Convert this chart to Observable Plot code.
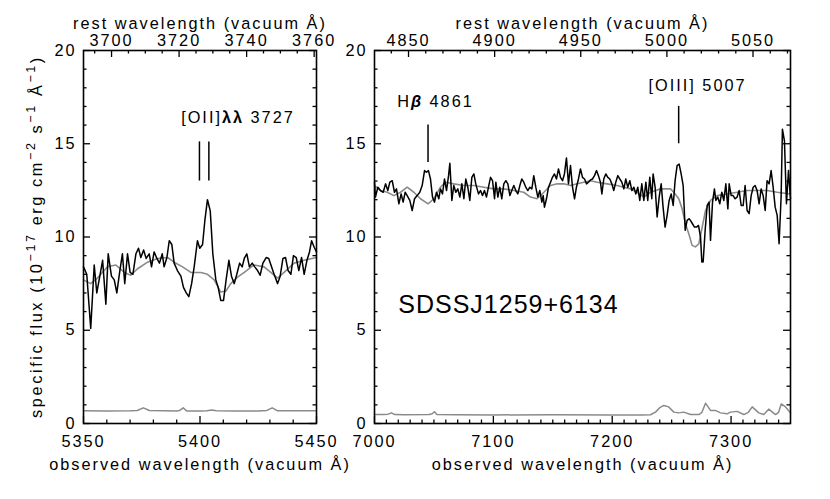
<!DOCTYPE html>
<html><head><meta charset="utf-8">
<script src="https://cdn.jsdelivr.net/npm/d3@7"></script>
<script src="https://cdn.jsdelivr.net/npm/@observablehq/plot@0.6"></script>
<style>
body{margin:0;background:#fff;}
#chart{position:relative;width:830px;height:499px;overflow:hidden;background:#fff;}
#chart svg{position:absolute;top:0;font-family:"Liberation Sans",Arial,sans-serif;font-size:16.3px;letter-spacing:2px;overflow:visible;background:transparent;}
</style></head><body><div id="chart"></div>
<script>
// redshift factor (1+z)
const onePlusZ = 1.4492;

// ---- left panel: observed wavelength (Å) and flux (1e-17 erg/cm2/s/Å)
const leftObs = [5350.0,5351.4,5353.1,5354.6,5355.7,5357.0,5358.2,5359.6,5360.6,5362.0,5363.2,5364.3,5365.5,5366.7,5367.7,5368.9,5370.0,5371.2,5372.5,5373.6,5374.6,5375.8,5376.9,5378.2,5379.2,5380.3,5381.5,5382.6,5383.8,5384.6,5385.8,5386.8,5387.9,5388.9,5390.3,5391.8,5392.9,5394.1,5395.2,5396.4,5397.5,5398.9,5399.9,5401.1,5402.1,5403.2,5404.4,5405.5,5406.8,5407.8,5408.9,5410.1,5411.2,5412.4,5413.5,5414.7,5415.8,5417.0,5418.1,5419.0,5420.1,5421.2,5422.4,5423.5,5424.7,5425.8,5427.0,5428.4,5429.5,5430.7,5431.8,5433.3,5434.4,5435.6,5436.7,5437.8,5439.0,5440.1,5441.3,5442.4,5443.6,5444.7,5445.9,5447.0,5447.9,5449.0,5450.0];
const leftFlux = [8.4,8.0,5.1,8.5,7.0,7.9,8.75,6.4,9.1,7.9,7.7,7.0,8.1,9.1,7.5,9.1,8.1,8.0,9.1,9.4,8.9,9.3,8.85,9.1,8.4,9.2,8.85,8.6,9.1,8.4,8.9,9.8,9.6,8.6,8.2,7.9,7.3,7.0,6.8,7.5,8.4,9.8,9.4,9.6,10.9,12.0,11.4,9.1,7.7,7.3,6.6,6.6,7.7,8.75,7.9,7.5,8.0,8.6,8.4,8.85,9.1,8.4,8.6,8.4,8.2,7.95,8.6,8.9,8.85,8.4,8.0,7.5,7.9,8.85,8.9,8.2,8.0,9.0,8.9,8.2,8.9,8.0,8.75,9.2,9.8,9.45,9.2];
const leftModelObs = [5350.0,5353.1,5356.0,5360.3,5363.9,5367.5,5370.3,5373.2,5377.5,5381.8,5386.1,5388.9,5392.5,5396.1,5400.4,5403.2,5406.1,5408.9,5411.1,5413.2,5416.1,5419.0,5423.2,5427.5,5430.4,5433.3,5436.1,5440.4,5444.7,5450.0];
const leftModel = [7.7,7.5,7.8,8.4,8.5,8.1,7.95,8.3,8.65,8.85,8.9,8.65,8.4,8.1,8.1,8.0,7.7,7.05,7.1,7.5,7.85,8.1,8.5,8.4,8.1,7.8,8.1,8.6,8.75,8.9];
const leftErrObs = [5350,5360,5370,5373,5375.7,5378.3,5385,5390,5391.3,5392.8,5394.3,5400,5403,5405,5407,5415,5425,5428.7,5431,5433.3,5440,5450];
const leftErr = [0.68,0.67,0.68,0.7,0.84,0.7,0.68,0.67,0.7,0.84,0.67,0.67,0.69,0.72,0.68,0.67,0.67,0.7,0.84,0.68,0.68,0.68];

// ---- right panel
const rightObs = [7000.0,7000.8,7002.8,7005.0,7007.3,7009.3,7011.2,7012.9,7014.9,7016.8,7018.5,7020.5,7022.4,7024.1,7025.8,7027.5,7029.7,7031.7,7033.7,7035.9,7038.1,7040.1,7042.1,7043.7,7045.4,7047.1,7048.8,7050.5,7052.2,7054.1,7055.5,7057.2,7058.9,7060.6,7062.3,7063.4,7065.1,7066.7,7068.4,7070.1,7071.8,7073.5,7075.2,7076.8,7078.5,7080.2,7081.9,7083.6,7085.2,7087.5,7089.2,7090.9,7092.5,7094.2,7095.9,7097.6,7099.3,7101.0,7102.1,7103.8,7105.4,7107.1,7108.8,7110.5,7112.2,7113.9,7115.5,7117.2,7118.9,7120.6,7122.3,7123.9,7125.6,7127.3,7129.0,7130.7,7132.4,7134.0,7135.7,7137.4,7139.1,7140.8,7141.9,7143.0,7144.7,7146.4,7148.1,7149.7,7151.4,7153.1,7154.8,7156.5,7158.2,7159.8,7161.5,7163.2,7164.9,7166.6,7168.3,7169.9,7171.6,7173.3,7175.0,7176.7,7178.4,7180.0,7181.7,7183.4,7185.1,7186.8,7188.4,7190.1,7191.3,7192.9,7194.6,7196.3,7198.0,7199.7,7201.3,7203.0,7204.7,7206.4,7208.1,7209.8,7211.4,7213.1,7214.8,7216.5,7218.2,7219.9,7221.5,7223.2,7224.9,7226.6,7228.3,7229.9,7231.6,7233.3,7234.4,7236.1,7237.8,7239.5,7241.2,7242.8,7244.5,7246.2,7247.9,7249.6,7251.3,7252.9,7254.6,7256.3,7258.0,7259.7,7261.4,7263.0,7264.7,7265.8,7267.5,7269.2,7270.9,7272.6,7274.3,7275.4,7276.5,7278.2,7279.9,7281.5,7282.7,7284.4,7286.0,7287.2,7288.8,7290.5,7292.2,7293.9,7295.6,7297.3,7298.4,7300.1,7301.7,7303.4,7305.1,7306.8,7308.5,7310.2,7311.8,7313.5,7315.2,7316.9,7318.6,7320.2,7321.9,7323.6,7325.3,7327.0,7328.7,7330.3,7332.0,7333.7,7335.4,7337.1,7338.8,7340.4,7342.1,7343.2,7344.9,7346.6,7348.3,7350.0];
const rightFlux = [12.94,12.14,12.67,12.49,12.40,12.85,12.49,12.94,13.02,12.40,12.58,11.78,12.31,11.87,12.40,12.22,11.96,11.42,12.05,12.22,12.40,12.76,13.56,13.47,13.56,13.11,12.14,11.87,12.40,12.05,12.58,12.31,13.11,12.49,13.29,13.95,11.96,12.76,12.40,12.58,12.14,12.85,12.05,13.11,12.67,11.96,13.20,13.38,12.85,12.31,12.49,12.22,12.49,12.14,12.67,13.20,13.02,12.05,12.94,12.14,12.67,12.05,12.85,13.02,12.85,12.22,12.49,12.76,12.49,12.31,12.76,13.11,12.94,12.67,12.49,12.67,12.58,13.29,12.67,12.14,12.49,11.87,12.22,11.60,12.05,12.67,12.94,13.20,13.38,13.11,13.65,13.20,13.02,13.38,14.24,12.85,13.83,12.67,12.05,12.67,13.11,13.65,13.20,13.11,12.85,12.94,13.06,13.11,13.29,13.56,13.29,12.94,12.31,13.11,13.38,13.20,13.11,12.85,12.49,12.94,13.29,13.11,12.94,12.58,13.11,12.67,13.02,12.49,12.67,12.31,12.67,11.96,12.85,11.96,12.94,11.96,13.20,12.05,13.38,12.67,11.07,12.14,12.85,11.60,10.53,11.16,11.96,12.31,11.69,13.02,13.83,13.91,13.38,12.76,10.36,10.89,10.98,10.89,10.71,10.53,10.53,10.62,10.00,8.66,8.66,10.36,11.69,11.87,9.82,11.87,12.58,11.96,12.14,11.78,12.40,11.96,12.85,11.51,12.85,12.22,12.22,12.05,12.14,12.49,11.69,11.69,12.76,11.42,11.25,12.22,12.67,12.76,12.49,11.78,12.58,12.22,11.42,13.02,12.85,13.56,12.67,11.60,11.16,9.64,12.14,15.78,15.16,11.78,13.56,12.05];
const rightModelObs = [7000.0,7005.0,7010.7,7016.3,7021.9,7027.5,7033.1,7038.7,7045.1,7049.9,7055.5,7059.7,7066.7,7075.2,7083.6,7092.0,7100.4,7108.8,7117.2,7125.6,7131.2,7136.8,7142.5,7148.1,7153.7,7159.3,7164.9,7170.5,7176.1,7181.7,7187.3,7195.7,7204.2,7209.8,7215.4,7221.0,7226.6,7232.2,7240.6,7246.2,7249.0,7251.8,7256.0,7258.8,7261.6,7264.4,7267.2,7270.0,7272.9,7275.7,7278.5,7282.7,7288.3,7296.7,7305.1,7313.5,7321.9,7330.3,7338.8,7350.0];
const rightModel = [12.76,12.49,12.40,12.22,12.40,12.67,12.40,12.05,11.78,12.05,12.67,12.94,12.85,12.76,12.76,12.67,12.58,12.58,12.49,12.40,12.14,12.05,12.40,12.76,12.85,12.85,12.76,12.85,12.94,13.02,12.94,12.85,12.76,12.67,12.58,12.40,12.14,12.40,12.58,12.58,12.58,12.40,12.05,11.51,10.71,10.18,9.55,9.47,9.64,10.53,11.42,11.96,12.22,12.31,12.40,12.49,12.49,12.49,12.40,12.31];
const rightErrObs = [7000,7008,7011.5,7014.3,7017,7025,7046,7048.5,7050.5,7052.5,7070,7100,7150,7200,7225,7232.2,7236.4,7240,7243.4,7247.6,7251.8,7256.0,7260.2,7265.9,7272.9,7275.5,7278.5,7282.7,7286.9,7291.1,7296.7,7299.5,7305.1,7310.7,7314.5,7317.8,7323.3,7327.5,7331.7,7337.4,7340,7342.2,7345.8,7350];
const rightErr = [0.48,0.48,0.5,0.57,0.48,0.47,0.48,0.52,0.63,0.48,0.47,0.46,0.47,0.46,0.46,0.47,0.61,0.85,0.97,0.89,0.61,0.57,0.61,0.48,0.48,0.6,1.09,0.70,0.70,0.57,0.52,0.61,0.65,0.48,0.6,0.89,0.57,0.48,0.77,0.48,0.6,1.05,0.89,0.57];

// emission-line markers (rest wavelengths, flux extent of the marker)
const oiiRest = [3726.03, 3728.82];
const oiiMarker = [13.0, 15.1];
const hbRest = [4861.33];
const hbMarker = [14.0, 16.0];
const oiiiRest = [5006.84];
const oiiiMarker = [15.0, 17.0];

// tick labels
const leftBottomTicks = [5350, 5400, 5450];
const leftTopTicks = [3700, 3720, 3740, 3760];
const rightBottomTicks = [7000, 7100, 7200, 7300];
const rightTopTicks = [4850, 4900, 4950, 5000, 5050];
const yTicks = [0, 5, 10, 15, 20];

const zip = (a, b) => a.slice(0, Math.min(a.length, b.length)).map((v, i) => ({x: v, y: b[i]}));
const GRAY = "#8a8a8a";
const H = 499, MT = 50, MB = 76;
const plotH = H - MT - MB;
const MAJ = 7, MIN = 3.5;

function panel({width, marginLeft, marginRight, xdom, obs, flux, mobs, model, eobs, err, bottomMajor, bottomMinor, topMajor, topMinor, markers, texts}) {
  const plotW = width - marginLeft - marginRight;
  const yMinor = d3.range(1, 20).filter(d => d % 5 !== 0);
  return Plot.plot({
    width, height: H, marginLeft, marginRight, marginTop: MT, marginBottom: MB,
    x: {domain: xdom, axis: null},
    y: {domain: [0, 20], axis: null},
    marks: [
      Plot.line(zip(eobs, err), {x: "x", y: "y", stroke: GRAY, strokeWidth: 1.5}),
      Plot.line(zip(mobs, model), {x: "x", y: "y", stroke: GRAY, strokeWidth: 1.6}),
      Plot.line(zip(obs, flux), {x: "x", y: "y", stroke: "black", strokeWidth: 1.5}),
      ...markers.map(m => Plot.ruleX(m.rest, {x: d => d * onePlusZ, y1: m.ext[0], y2: m.ext[1], stroke: "black", strokeWidth: 1.5})),
      Plot.tickX(bottomMajor, {x: d => d, insetTop: plotH - MAJ, stroke: "black", strokeWidth: 1.3}),
      Plot.tickX(bottomMinor, {x: d => d, insetTop: plotH - MIN, stroke: "black", strokeWidth: 1.3}),
      Plot.tickX(topMajor, {x: d => d * onePlusZ, insetBottom: plotH - MAJ, stroke: "black", strokeWidth: 1.3}),
      Plot.tickX(topMinor, {x: d => d * onePlusZ, insetBottom: plotH - MIN, stroke: "black", strokeWidth: 1.3}),
      Plot.tickY(yTicks, {y: d => d, insetRight: plotW - MAJ, stroke: "black", strokeWidth: 1.3}),
      Plot.tickY(yMinor, {y: d => d, insetRight: plotW - MIN, stroke: "black", strokeWidth: 1.3}),
      Plot.tickY(yTicks, {y: d => d, insetLeft: plotW - MAJ, stroke: "black", strokeWidth: 1.3}),
      Plot.tickY(yMinor, {y: d => d, insetLeft: plotW - MIN, stroke: "black", strokeWidth: 1.3}),
      Plot.frame({stroke: "black", strokeWidth: 1.6}),
      Plot.text(bottomMajor, {x: d => d, text: d => String(d), frameAnchor: "bottom", dy: 23, fill: "black"}),
      Plot.text(topMajor, {x: d => d * onePlusZ, text: d => String(d), frameAnchor: "top", dy: -16, fill: "black"}),
      Plot.text(yTicks, {y: d => d, text: d => String(d), frameAnchor: "left", dx: -7, textAnchor: "end", fill: "black"}),
      Plot.text(["observed wavelength (vacuum Å)"], {frameAnchor: "bottom", dy: 46, fill: "black"}),
      Plot.text(["rest wavelength (vacuum Å)"], {frameAnchor: "top", dy: -33, fill: "black"}),
      ...texts
    ]
  });
}

const leftPlot = panel({
  width: 330, marginLeft: 83, marginRight: 14, xdom: [5350, 5450],
  obs: leftObs, flux: leftFlux, mobs: leftModelObs, model: leftModel, eobs: leftErrObs, err: leftErr,
  bottomMajor: leftBottomTicks, bottomMinor: d3.range(5360, 5450, 10).filter(d => d % 50 !== 0),
  topMajor: leftTopTicks, topMinor: d3.range(3695, 3761, 5).filter(d => d % 20 !== 0),
  markers: [{rest: oiiRest, ext: oiiMarker}],
  texts: [Plot.text(["[OII]λλ 3727"], {x: 5416.3, y: 16.4, fill: "black"})]
});

const rightPlot = panel({
  width: 500, marginLeft: 44, marginRight: 40, xdom: [7000, 7350],
  obs: rightObs, flux: rightFlux, mobs: rightModelObs, model: rightModel, eobs: rightErrObs, err: rightErr,
  bottomMajor: rightBottomTicks, bottomMinor: d3.range(7010, 7350, 10).filter(d => d % 100 !== 0),
  topMajor: rightTopTicks, topMinor: d3.range(4840, 5071, 10).filter(d => d % 50 !== 0),
  markers: [{rest: hbRest, ext: hbMarker}, {rest: oiiiRest, ext: oiiiMarker}],
  texts: [
    Plot.text(["Hβ 4861"], {x: 7051.3, y: 17.27, fill: "black"}),
    Plot.text(["[OIII] 5007"], {x: 7271.8, y: 18.1, fill: "black"}),
    Plot.text(["SDSSJ1259+6134"], {x: 7112.7, y: 6.38, fontSize: 25, fill: "black"})
  ]
});

const chart = document.getElementById("chart");
leftPlot.style.left = "0px";
rightPlot.style.left = "330px";
chart.appendChild(leftPlot);
chart.appendChild(rightPlot);

// label styling: bold λλ, bold-italic β
d3.select(leftPlot).selectAll("text").filter(function() { return this.textContent === "[OII]λλ 3727"; })
  .each(function() {
    const t = d3.select(this);
    t.text(null);
    t.append("tspan").text("[OII]");
    t.append("tspan").style("font-weight", "bold").text("λλ");
    t.append("tspan").text(" 3727");
  });
d3.select(rightPlot).selectAll("text").filter(function() { return this.textContent === "Hβ 4861"; })
  .each(function() {
    const t = d3.select(this);
    t.text(null);
    t.append("tspan").text("H");
    t.append("tspan").style("font-weight", "bold").style("font-style", "italic").text("β");
    t.append("tspan").text(" 4861");
  });
d3.select(rightPlot).selectAll("text").filter(function() { return this.textContent === "SDSSJ1259+6134"; })
  .style("letter-spacing", "1px");

// rotated y-axis title with superscripts
const yc = leftPlot.scale("y").apply(10);
const yt = d3.select(leftPlot).append("text")
  .attr("transform", `translate(42,${yc}) rotate(-90)`)
  .attr("text-anchor", "middle").attr("fill", "black")
  .style("letter-spacing", "2.6px");
const parts = [["specific flux (10", 0], ["−17", 1], [" erg cm", 0], ["−2", 1], [" s", 0], ["−1", 1], [" Å", 0], ["−1", 1], [")", 0]];
let up = false;
for (const [s, sup] of parts) {
  const ts = yt.append("tspan").text(s);
  if (sup && !up) { ts.attr("dy", -7).style("font-size", "12.5px"); up = true; }
  else if (sup) { ts.style("font-size", "12.5px"); }
  else if (up) { ts.attr("dy", 7); up = false; }
}
</script>
</body></html>
